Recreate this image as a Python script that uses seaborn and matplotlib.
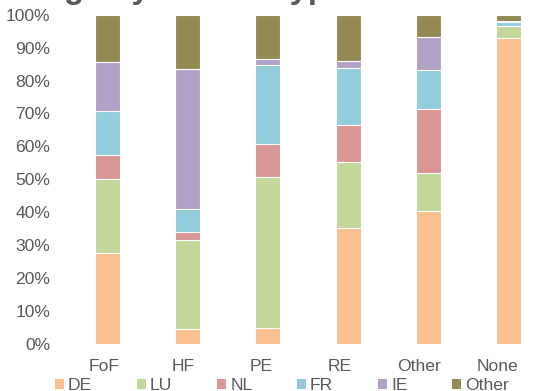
import matplotlib
matplotlib.use("Agg")
import matplotlib.pyplot as plt
from matplotlib.patches import Patch
from matplotlib.ticker import PercentFormatter
import numpy as np
import pandas as pd
import seaborn as sns

# Share of holdings (%) per fund type, split by domicile
fund_types = ["FoF", "HF", "PE", "RE", "Other", "None"]
domiciles = ["DE", "LU", "NL", "FR", "IE", "Other"]
de = [27.5, 4.5, 4.8, 35.1, 40.4, 92.9]
lu = [22.5, 27.1, 46.0, 20.1, 11.6, 3.7]
nl = [7.5, 2.5, 10.0, 11.3, 19.4, 0.0]
fr = [13.3, 6.9, 23.9, 17.4, 11.7, 1.2]
ie = [14.8, 42.5, 1.9, 1.9, 10.1, 0.2]
other = [14.4, 16.5, 13.4, 14.2, 6.8, 2.0]
colors = ["#FAC090", "#C4D79B", "#D99694", "#93CDDD", "#B3A2C7", "#948A54"]
y_ticks = [0, 10, 20, 30, 40, 50, 60, 70, 80, 90, 100]
title = "Holdings by vehicle type"

sns.set_style("white")
plt.rcParams["font.family"] = ["Liberation Sans", "DejaVu Sans"]
text_color = "#595959"

shares = np.array([de, lu, nl, fr, ie, other])
tops = np.cumsum(shares, axis=0)

W, H = 535, 391
fig = plt.figure(figsize=(W / 100, H / 100), dpi=100)
ax = fig.add_axes([67 / W, 47 / H, 482 / W, 329.3 / H])

# Stack by overlaying cumulative bars, tallest first
for i in range(len(domiciles) - 1, -1, -1):
    df = pd.DataFrame({"fund_type": fund_types, "top": tops[i]})
    sns.barplot(data=df, x="fund_type", y="top", order=fund_types,
                color=colors[i], saturation=1, width=0.31, errorbar=None,
                edgecolor="white", linewidth=0.8, ax=ax)

ax.set_xlim(-0.5, 5.5)
ax.set_ylim(0, 100)
ax.set_yticks(y_ticks)
ax.yaxis.set_major_formatter(PercentFormatter(decimals=0))
# category labels sit on a slightly tighter pitch than the bars
ax.set_xticks(np.arange(len(fund_types)) * 0.979 - 0.037)
ax.set_xticklabels(fund_types)
ax.set_xlabel("")
ax.set_ylabel("")
for s in ax.spines.values():
    s.set_visible(False)
ax.tick_params(axis="y", length=0, pad=12, labelsize=12.6, labelcolor=text_color)
ax.tick_params(axis="x", length=0, pad=10.5, labelsize=12.6, labelcolor=text_color)

handles = [Patch(facecolor=c, edgecolor="none") for c in colors]
fig.legend(handles, domiciles, loc="center", bbox_to_anchor=(282 / W, 1 - 386 / H),
           ncol=6, frameon=False, fontsize=12.6, labelcolor=text_color,
           handlelength=0.5, handleheight=0.5, handletextpad=0.25,
           columnspacing=2.55, borderpad=0, borderaxespad=0)

# Title runs off the top edge; size and offset it so the "g" of "Holdings"
# starts near x=64 px and the "y" of "type" near x=290 px.
renderer = fig.canvas.get_renderer()


def text_width(s, size):
    t = fig.text(0, 0, s, fontsize=size, fontweight="bold")
    w = t.get_window_extent(renderer).width
    t.remove()
    return w


base = 25
w_g = text_width("Holdin", base)
w_y = text_width("Holdings by vehicle t", base)
size = base * (290 - 64) / (w_y - w_g)
x0 = 64 - w_g * size / base
fig.text(x0 / W, 1 - 5 / H, title, ha="left", va="bottom",
         fontsize=size, fontweight="bold", color=text_color)

fig.savefig("out.png", dpi=100)
